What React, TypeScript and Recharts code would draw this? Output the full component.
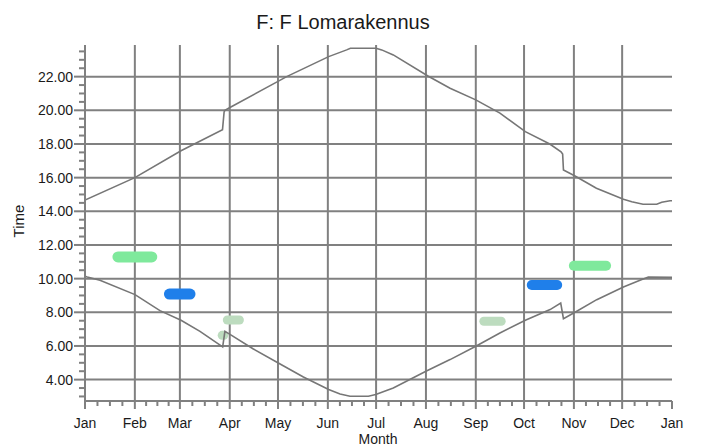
import React from 'react';
import { LineChart, Line, XAxis, YAxis, CartesianGrid } from 'recharts';

// Month axis (day of year)
const monthLabels = ['Jan', 'Feb', 'Mar', 'Apr', 'May', 'Jun', 'Jul', 'Aug', 'Sep', 'Oct', 'Nov', 'Dec', 'Jan'];
const monthStartDays = [0, 31, 59, 90, 120, 151, 181, 212, 243, 273, 304, 334, 365];
const gridDays = [31, 59, 90, 120, 151, 181, 212, 243, 273, 304, 334];
const minorXTicks = [
  7.75, 15.5, 23.25, 38, 45, 52, 66.75, 74.5, 82.25, 97.5, 105, 112.5,
  127.75, 135.5, 143.25, 158.5, 166, 173.5, 188.75, 196.5, 204.25,
  219.75, 227.5, 235.25, 250.5, 258, 265.5, 280.75, 288.5, 296.25,
  311.5, 319, 326.5, 341.75, 349.5, 357.25,
];

// Time axis (hours)
const yTicks = [4, 6, 8, 10, 12, 14, 16, 18, 20, 22];
const minorYTicks = [
  3, 3.5, 4.5, 5, 5.5, 6.5, 7, 7.5, 8.5, 9, 9.5, 10.5, 11, 11.5, 12.5, 13, 13.5,
  14.5, 15, 15.5, 16.5, 17, 17.5, 18.5, 19, 19.5, 20.5, 21, 21.5, 22.5, 23, 23.5,
];
const yDomain = [2.73, 23.88];

// Upper curve (day, hour)
const upperCurve = [
  { d: 0, v: 14.67 }, { d: 31, v: 16.0 }, { d: 59.7, v: 17.6 }, { d: 85.5, v: 18.85 },
  { d: 86.5, v: 19.9 }, { d: 87, v: 20.0 }, { d: 90.4, v: 20.18 }, { d: 120, v: 21.72 },
  { d: 125.4, v: 22.0 }, { d: 151.5, v: 23.19 }, { d: 162.7, v: 23.59 }, { d: 165, v: 23.69 },
  { d: 181, v: 23.69 }, { d: 184.5, v: 23.59 }, { d: 191.7, v: 23.29 }, { d: 213.5, v: 22.02 },
  { d: 227, v: 21.31 }, { d: 243, v: 20.62 }, { d: 258, v: 19.83 }, { d: 273.8, v: 18.73 },
  { d: 289, v: 18.0 }, { d: 296, v: 17.54 }, { d: 297, v: 17.4 }, { d: 297.5, v: 16.46 },
  { d: 304.7, v: 16.1 }, { d: 318, v: 15.37 }, { d: 334.8, v: 14.71 }, { d: 340, v: 14.57 },
  { d: 347, v: 14.42 }, { d: 355.5, v: 14.42 }, { d: 358.6, v: 14.54 }, { d: 363.8, v: 14.63 },
  { d: 365, v: 14.63 },
];

// Lower curve (day, hour)
const lowerCurve = [
  { d: 0, v: 10.14 }, { d: 1.4, v: 10.1 }, { d: 9.3, v: 9.9 }, { d: 31.1, v: 9.05 },
  { d: 46.6, v: 8.1 }, { d: 59.7, v: 7.53 }, { d: 71.5, v: 6.87 }, { d: 85.6, v: 5.94 },
  { d: 87, v: 6.87 }, { d: 90.4, v: 6.67 }, { d: 104.7, v: 5.82 }, { d: 120.2, v: 4.99 },
  { d: 135.8, v: 4.16 }, { d: 151.5, v: 3.41 }, { d: 158.6, v: 3.15 }, { d: 164.8, v: 3.01 },
  { d: 176.2, v: 3.01 }, { d: 180.8, v: 3.11 }, { d: 191.7, v: 3.5 }, { d: 212, v: 4.5 },
  { d: 227, v: 5.19 }, { d: 243, v: 5.98 }, { d: 258, v: 6.77 }, { d: 273.8, v: 7.53 },
  { d: 289.2, v: 8.16 }, { d: 295.8, v: 8.55 }, { d: 297.5, v: 7.62 }, { d: 304.7, v: 8.0 },
  { d: 318.2, v: 8.75 }, { d: 334.8, v: 9.5 }, { d: 345.1, v: 9.9 }, { d: 350.3, v: 10.1 },
  { d: 365, v: 10.08 },
];

// Coloured observation bands (day, hour)
const greenFeb = [{ d: 20.5, v: 11.29 }, { d: 41.5, v: 11.29 }];
const blueMar = [{ d: 52.5, v: 9.08 }, { d: 65.3, v: 9.08 }];
const paleApr = [{ d: 88.5, v: 7.54 }, { d: 96, v: 7.54 }];
const paleApr2 = [{ d: 85.3, v: 6.63 }, { d: 86.3, v: 6.63 }];
const paleSep = [{ d: 248, v: 7.47 }, { d: 258.8, v: 7.47 }];
const blueOct = [{ d: 277.8, v: 9.62 }, { d: 293.6, v: 9.62 }];
const greenNov = [{ d: 304, v: 10.77 }, { d: 324, v: 10.77 }];

const GREEN = '#7fe99c';
const BLUE = '#1f7fea';
const PALE = '#bddcbf';
const GRID = '#808080';
const CURVE = '#767676';
const TEXT = '#1a1a1a';
const FONT = '"Liberation Sans", Arial, sans-serif';

const allXTicks = [...monthStartDays, ...minorXTicks];
const allYTicks = [...yTicks, ...minorYTicks];

const XTick = (props: any) => {
  const { x, y, payload } = props;
  const v = payload.value;
  const idx = monthStartDays.indexOf(v);
  const major = idx >= 0;
  return (
    <g>
      <line x1={x} y1={y} x2={x} y2={y + (major ? 8 : 5)} stroke={GRID} strokeWidth={2} />
      {major && (
        <text x={x} y={y + 26.5} textAnchor="middle" fontSize={14} fill={TEXT} fontFamily={FONT}>
          {monthLabels[idx]}
        </text>
      )}
    </g>
  );
};

const YTick = (props: any) => {
  const { x, y, payload } = props;
  const v = payload.value;
  const major = yTicks.includes(v);
  return (
    <g>
      <line x1={x} y1={y} x2={x - (major ? 11 : 6)} y2={y} stroke={GRID} strokeWidth={2} />
      {major && (
        <text x={x - 12} y={y} dy="0.36em" textAnchor="end" fontSize={14} fill={TEXT} fontFamily={FONT}>
          {v.toFixed(2)}
        </text>
      )}
    </g>
  );
};

const bandProps = {
  dataKey: 'v',
  dot: false,
  activeDot: false,
  isAnimationActive: false,
  strokeLinecap: 'round' as const,
  legendType: 'none' as const,
};

export default function App() {
  return (
    <div style={{ position: 'absolute', left: 0, top: 0, width: 701, height: 446, background: '#fff', fontFamily: FONT }}>
      <LineChart width={701} height={446} margin={{ top: 45, right: 29, bottom: 0, left: 0 }}>
        <CartesianGrid
          stroke={GRID}
          strokeWidth={2}
          verticalValues={gridDays}
          horizontalValues={yTicks}
        />
        <XAxis
          dataKey="d"
          type="number"
          domain={[0, 365]}
          ticks={allXTicks}
          interval={0}
          height={45}
          tickSize={0}
          tickMargin={0}
          tick={<XTick />}
          axisLine={{ stroke: GRID, strokeWidth: 2 }}
          allowDataOverflow
        />
        <YAxis
          type="number"
          domain={yDomain}
          ticks={allYTicks}
          interval={0}
          width={85}
          tickSize={0}
          tickMargin={0}
          tick={<YTick />}
          axisLine={{ stroke: GRID, strokeWidth: 2 }}
          allowDataOverflow
        />

        <Line {...bandProps} data={greenFeb} stroke={GREEN} strokeWidth={11} />
        <Line {...bandProps} data={blueMar} stroke={BLUE} strokeWidth={11} />
        <Line {...bandProps} data={paleApr} stroke={PALE} strokeWidth={9} />
        <Line {...bandProps} data={paleApr2} stroke={PALE} strokeWidth={9} />
        <Line {...bandProps} data={paleSep} stroke={PALE} strokeWidth={9} />
        <Line {...bandProps} data={blueOct} stroke={BLUE} strokeWidth={10} />
        <Line {...bandProps} data={greenNov} stroke={GREEN} strokeWidth={10} />

        <Line data={upperCurve} dataKey="v" type="linear" stroke={CURVE} strokeWidth={1.6} dot={false} activeDot={false} isAnimationActive={false} />
        <Line data={lowerCurve} dataKey="v" type="linear" stroke={CURVE} strokeWidth={1.6} dot={false} activeDot={false} isAnimationActive={false} />
      </LineChart>
      <svg width={701} height={446} style={{ position: 'absolute', left: 0, top: 0, pointerEvents: 'none' }}>
        <text x={343} y={28.5} textAnchor="middle" fontSize={20} fill={TEXT} fontFamily={FONT}>F: F Lomarakennus</text>
        <text x={378} y={444} textAnchor="middle" fontSize={14} fill={TEXT} fontFamily={FONT}>Month</text>
        <text x={24} y={221} textAnchor="middle" fontSize={15} fill={TEXT} fontFamily={FONT} transform="rotate(-90 24 221)">Time</text>
      </svg>
    </div>
  );
}
